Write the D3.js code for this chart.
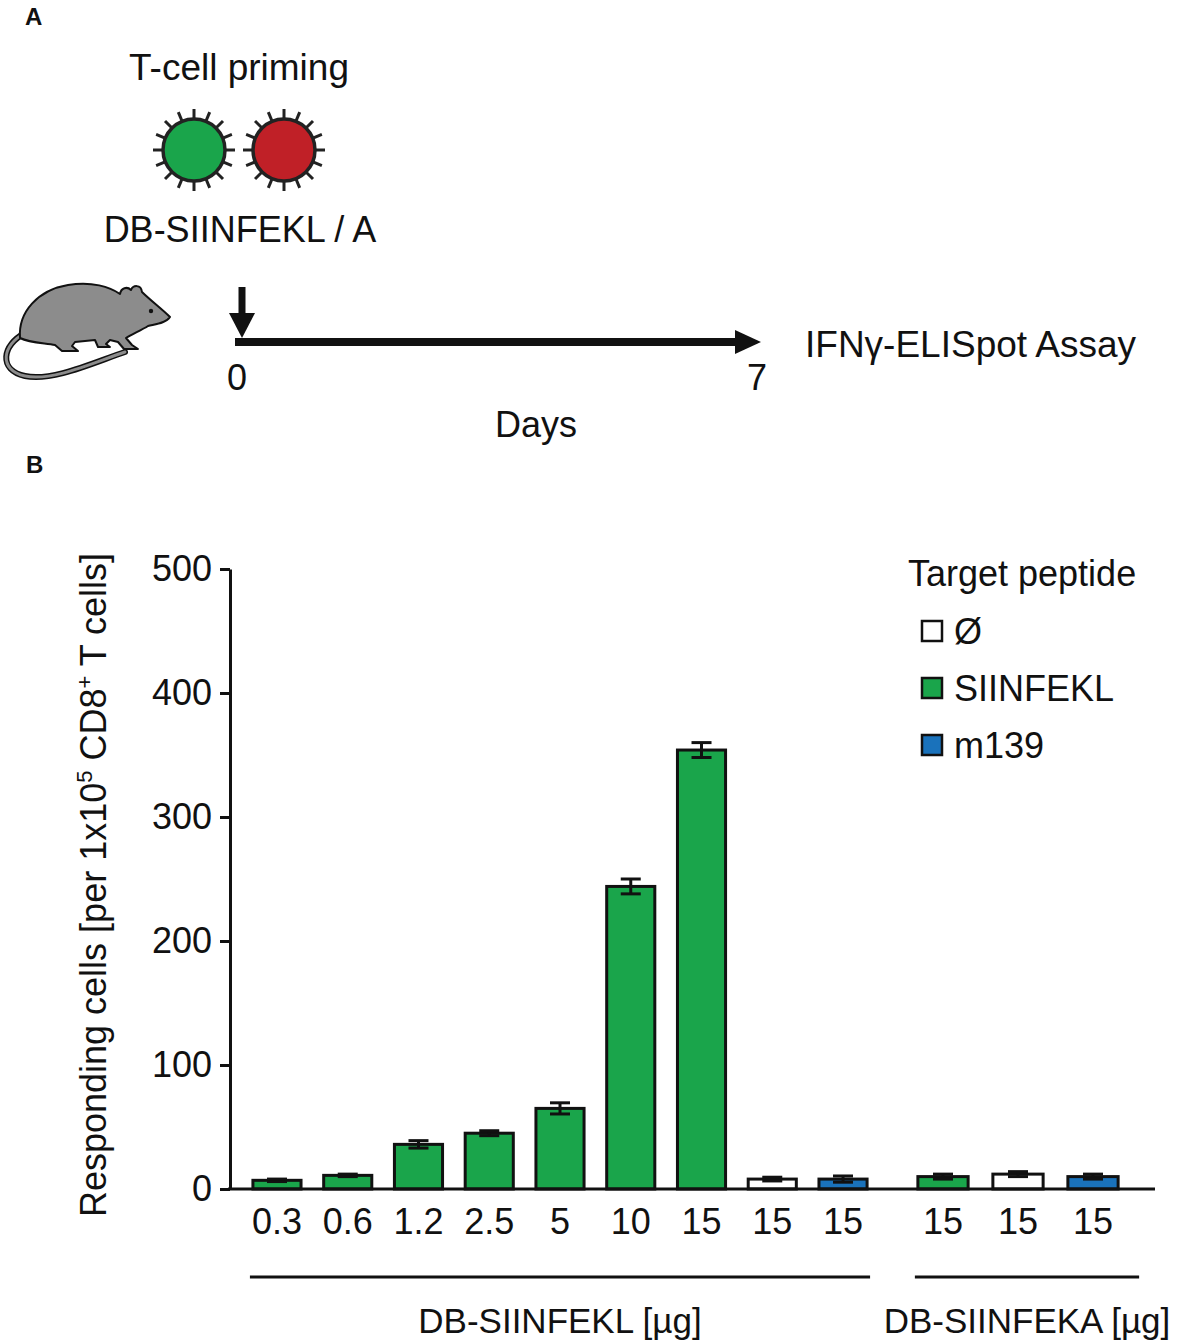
<!DOCTYPE html>
<html>
<head>
<meta charset="utf-8">
<script src="https://cdn.jsdelivr.net/npm/d3@7"></script>
<style>
  body { margin: 0; background: #fff; }
  text { font-family: "Liberation Sans", Arial, sans-serif; fill: #111; }
</style>
</head>
<body>
<div id="chart"></div>
<script>
// tick labels (dose in µg) and values for the two groups
const doseLabelsL = ["0.3", "0.6", "1.2", "2.5", "5", "10", "15", "15", "15"];
const valuesL = [7, 11, 36, 45, 65, 244, 354, 8, 8];
const errorsL = [1, 1, 3, 2, 4.5, 6, 6, 1.5, 2.5];
const targetsL = ["SIINFEKL", "SIINFEKL", "SIINFEKL", "SIINFEKL", "SIINFEKL", "SIINFEKL", "SIINFEKL", "Ø", "m139"];

const doseLabelsA = ["15", "15", "15"];
const valuesA = [10, 12, 10];
const errorsA = [2, 2, 2];
const targetsA = ["SIINFEKL", "Ø", "m139"];

const groupNames = ["DB-SIINFEKL [µg]", "DB-SIINFEKA [µg]"];
const targetNames = ["Ø", "SIINFEKL", "m139"];
const targetColors = ["#ffffff", "#1aa54b", "#1a72bb"];
const yTicks = [0, 100, 200, 300, 400, 500];
const days = [0, 7];

const width = 1178, height = 1343;

const svg = d3.select("#chart")
    .append("svg")
    .attr("width", width)
    .attr("height", height);

const color = d3.scaleOrdinal().domain(targetNames).range(targetColors);

/* ---------- panel A ---------- */
svg.append("text").text("A")
    .attr("x", 25).attr("y", 25)
    .style("font-weight", "bold").style("font-size", "24px");

svg.append("text").text("T-cell priming")
    .attr("x", 239).attr("y", 80)
    .attr("text-anchor", "middle").style("font-size", "37px");

// the two cells (green = SIINFEKL, red = A)
const cells = [{ cx: 194, fill: "#1aa54b" }, { cx: 284, fill: "#c02027" }];
const cell = svg.selectAll(".cell")
    .data(cells)
    .join("g")
    .attr("class", "cell")
    .attr("transform", d => `translate(${d.cx},150)`);

cell.selectAll("line")
    .data(d3.range(16))
    .join("line")
    .attr("x1", i => 30 * Math.cos(i * Math.PI / 8))
    .attr("y1", i => 30 * Math.sin(i * Math.PI / 8))
    .attr("x2", i => 41 * Math.cos(i * Math.PI / 8))
    .attr("y2", i => 41 * Math.sin(i * Math.PI / 8))
    .attr("stroke", "#222")
    .attr("stroke-width", 3);

cell.append("circle")
    .attr("r", 31)
    .attr("fill", d => d.fill)
    .attr("stroke", "#222")
    .attr("stroke-width", 3.5);

svg.append("text").text("DB-SIINFEKL / A")
    .attr("x", 240).attr("y", 242)
    .attr("text-anchor", "middle").style("font-size", "36px");

// mouse
const mouse = svg.append("g");
mouse.append("path")
    .attr("d", "M25,333 C2,345 -2,370 25,376 C52,382 95,362 125,352")
    .attr("fill", "none").attr("stroke", "#111").attr("stroke-width", 6)
    .attr("stroke-linecap", "round");
mouse.append("path")
    .attr("d", "M25,333 C2,345 -2,370 25,376 C52,382 95,362 125,352")
    .attr("fill", "none").attr("stroke", "#8c8c8c").attr("stroke-width", 3)
    .attr("stroke-linecap", "round");
mouse.append("path")
    .attr("d", "M20,338 C18,312 38,290 68,285 C92,281 110,287 120,294 " +
        "C121,288 127,286 131,290 C133,285 141,284 142,292 " +
        "C150,300 162,309 170,317 C166,323 156,324 148,326 " +
        "C142,330 130,335 126,338 L132,345 L138,349 L124,349 L118,342 " +
        "L110,340 L106,344 L110,347 L98,347 L95,340 " +
        "L75,342 L72,346 L78,351 L62,351 L55,345 C45,343 30,343 20,338 Z")
    .attr("fill", "#8c8c8c").attr("stroke", "#111").attr("stroke-width", 2)
    .attr("stroke-linejoin", "round");
mouse.append("circle").attr("cx", 151).attr("cy", 311).attr("r", 2.2).attr("fill", "#111");

// timeline
const dayX = d3.scaleLinear().domain([0, 7]).range([237, 757]);
const lineY = 342;

svg.append("line")
    .attr("x1", dayX(0) - 2).attr("x2", dayX(7) - 20)
    .attr("y1", lineY).attr("y2", lineY)
    .attr("stroke", "#111").attr("stroke-width", 8);
svg.append("path")
    .attr("d", `M${dayX(7) - 22},${lineY - 12} L${dayX(7) + 4},${lineY} L${dayX(7) - 22},${lineY + 12} Z`)
    .attr("fill", "#111");

// injection arrow
const ax = dayX(0) + 5;
svg.append("line")
    .attr("x1", ax).attr("x2", ax).attr("y1", 287).attr("y2", 316)
    .attr("stroke", "#111").attr("stroke-width", 7);
svg.append("path")
    .attr("d", `M${ax - 13},313 L${ax + 13},313 L${ax},338 Z`)
    .attr("fill", "#111");

svg.selectAll(".day")
    .data(days)
    .join("text")
    .attr("class", "day")
    .text(d => d)
    .attr("x", d => dayX(d))
    .attr("y", 390)
    .attr("text-anchor", "middle")
    .style("font-size", "36px");

svg.append("text").text("Days")
    .attr("x", 536).attr("y", 437)
    .attr("text-anchor", "middle").style("font-size", "36px");

svg.append("text").text("IFNγ-ELISpot Assay")
    .attr("x", 805).attr("y", 357)
    .style("font-size", "37px");

/* ---------- panel B ---------- */
svg.append("text").text("B")
    .attr("x", 26).attr("y", 473)
    .style("font-weight", "bold").style("font-size", "24px");

const y = d3.scaleLinear()
    .domain([0, 500])
    .range([1189, 569]);

// one band scale per group
const xL = d3.scaleBand()
    .domain(d3.range(valuesL.length))
    .range([241.6, 878.4])
    .paddingInner(0.32)
    .paddingOuter(0.16);

const xA = d3.scaleBand()
    .domain(d3.range(valuesA.length))
    .range([905.5, 1130.5])
    .paddingInner(0.33)
    .paddingOuter(0.165);

const groups = [
    { x: xL, labels: doseLabelsL, values: valuesL, errors: errorsL, targets: targetsL, name: groupNames[0], extra: 0 },
    { x: xA, labels: doseLabelsA, values: valuesA, errors: errorsA, targets: targetsA, name: groupNames[1], extra: 18 }
];

groups.forEach(g => {
    const rows = g.values.map((v, i) => ({ i, v, e: g.errors[i], t: g.targets[i], label: g.labels[i] }));
    const bw = g.x.bandwidth();

    const bar = svg.append("g")
        .selectAll("g")
        .data(rows)
        .join("g");

    bar.append("rect")
        .attr("x", d => g.x(d.i))
        .attr("y", d => y(d.v))
        .attr("width", bw)
        .attr("height", d => y(0) - y(d.v))
        .attr("fill", d => color(d.t))
        .attr("stroke", "#111")
        .attr("stroke-width", 3);

    // error bars
    bar.append("line")
        .attr("x1", d => g.x(d.i) + bw / 2)
        .attr("x2", d => g.x(d.i) + bw / 2)
        .attr("y1", d => y(d.v - d.e))
        .attr("y2", d => y(d.v + d.e))
        .attr("stroke", "#111").attr("stroke-width", 3);
    bar.selectAll(".cap")
        .data(d => [d.v - d.e, d.v + d.e].map(c => ({ i: d.i, c })))
        .join("line")
        .attr("class", "cap")
        .attr("x1", d => g.x(d.i) + bw / 2 - 10)
        .attr("x2", d => g.x(d.i) + bw / 2 + 10)
        .attr("y1", d => y(d.c))
        .attr("y2", d => y(d.c))
        .attr("stroke", "#111").attr("stroke-width", 3);

    // dose tick labels
    bar.append("text")
        .text(d => d.label)
        .attr("x", d => g.x(d.i) + bw / 2)
        .attr("y", 1234)
        .attr("text-anchor", "middle")
        .style("font-size", "36px");

    // group underline and name
    const x0 = g.x(0) - 3, x1 = g.x(g.values.length - 1) + bw + 3;
    svg.append("line")
        .attr("x1", x0).attr("x2", x1 + g.extra)
        .attr("y1", 1277).attr("y2", 1277)
        .attr("stroke", "#111").attr("stroke-width", 3);
    svg.append("text").text(g.name)
        .attr("x", (x0 + x1 + g.extra) / 2)
        .attr("y", 1333)
        .attr("text-anchor", "middle")
        .style("font-size", "35px");
});

// axes
svg.append("g")
    .attr("transform", "translate(230,0)")
    .call(d3.axisLeft(y).tickValues(yTicks).tickSize(10).tickSizeOuter(0).tickPadding(8))
    .call(g => g.selectAll("path, line").attr("stroke", "#111").attr("stroke-width", 3))
    .call(g => g.selectAll("text")
        .style("font-family", '"Liberation Sans", Arial, sans-serif')
        .style("font-size", "36px").attr("fill", "#111"));

svg.append("line")
    .attr("x1", 228).attr("x2", 1155)
    .attr("y1", y(0)).attr("y2", y(0))
    .attr("stroke", "#111").attr("stroke-width", 3);

// y axis title
const yTitle = svg.append("text")
    .attr("transform", "translate(106,885) rotate(-90)")
    .attr("text-anchor", "middle")
    .style("font-size", "36px");
yTitle.append("tspan").text("Responding cells [per 1x10");
yTitle.append("tspan").text("5").attr("dy", -14).style("font-size", "22px");
yTitle.append("tspan").text(" CD8").attr("dy", 14);
yTitle.append("tspan").text("+").attr("dy", -14).style("font-size", "22px");
yTitle.append("tspan").text(" T cells]").attr("dy", 14);

// legend
svg.append("text").text("Target peptide")
    .attr("x", 908).attr("y", 586)
    .style("font-size", "36px");

const legend = svg.selectAll(".legend")
    .data(targetNames)
    .join("g")
    .attr("class", "legend")
    .attr("transform", (d, i) => `translate(922,${621 + i * 57})`);

legend.append("rect")
    .attr("width", 20).attr("height", 20)
    .attr("fill", d => color(d))
    .attr("stroke", "#111").attr("stroke-width", 2.5);

legend.append("text")
    .text(d => d)
    .attr("x", 32).attr("y", 23)
    .style("font-size", "36px");
</script>
</body>
</html>
